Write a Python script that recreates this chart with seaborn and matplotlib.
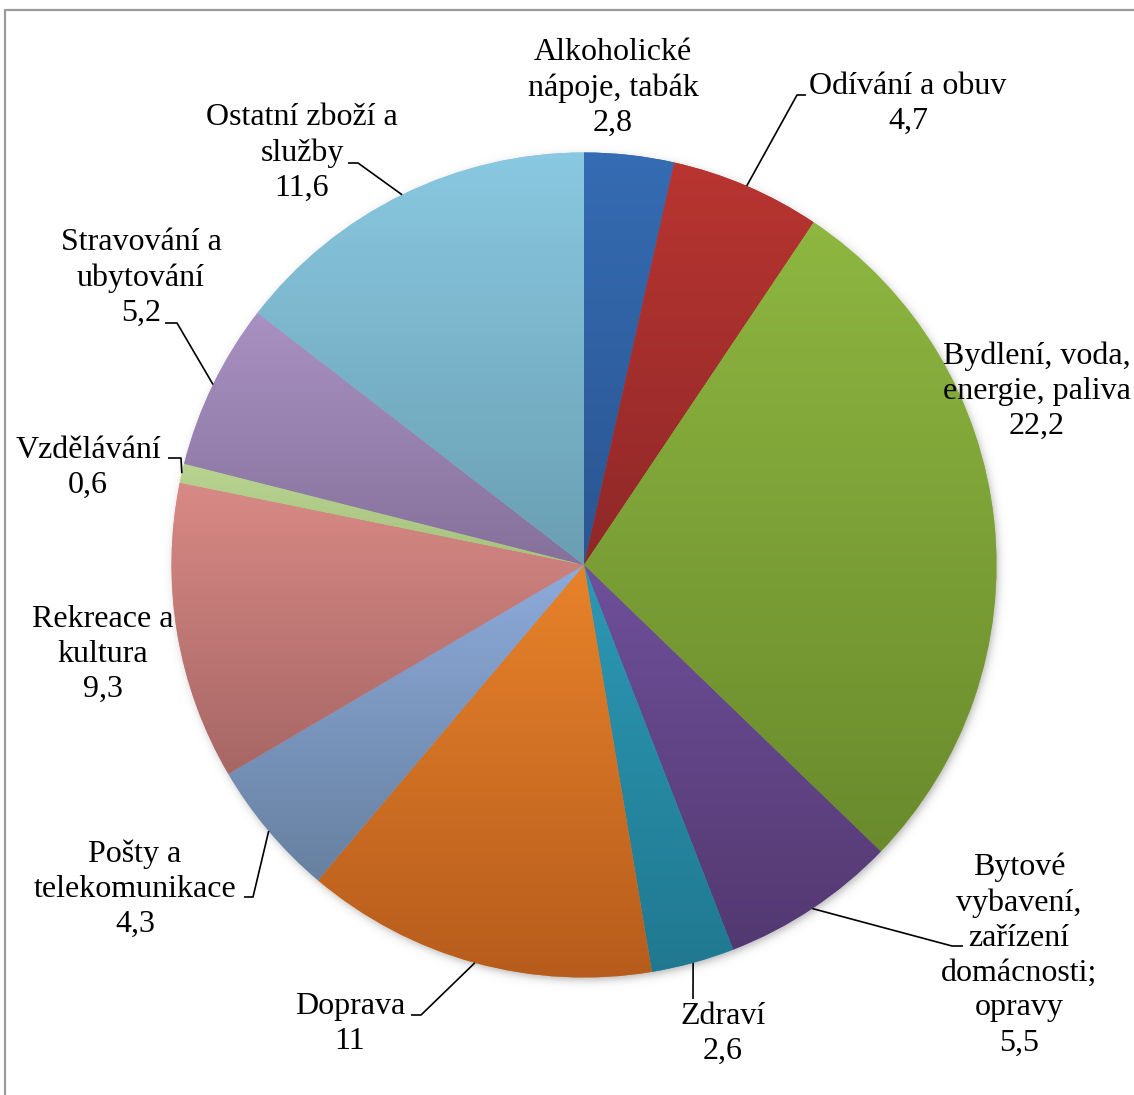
import numpy as np
import matplotlib
matplotlib.use("Agg")
import matplotlib.pyplot as plt
import matplotlib.colors as mcolors
import seaborn as sns

# Household consumption expenditure structure (shares, food excluded)
categories = [
    "Alkoholické\nnápoje, tabák",
    "Odívání a obuv",
    "Bydlení, voda,\nenergie, paliva",
    "Bytové\nvybavení,\nzařízení\ndomácnosti;\nopravy",
    "Zdraví",
    "Doprava",
    "Pošty a\ntelekomunikace",
    "Rekreace a\nkultura",
    "Vzdělávání",
    "Stravování a\nubytování",
    "Ostatní zboží a\nslužby",
]
values = [2.8, 4.7, 22.2, 5.5, 2.6, 11, 4.3, 9.3, 0.6, 5.2, 11.6]
value_labels = ["2,8", "4,7", "22,2", "5,5", "2,6", "11", "4,3", "9,3", "0,6", "5,2", "11,6"]

# Slice colours: light (top) and dark (bottom) ends of each vertical gradient
top_colors = ["#356cb3", "#b93531", "#8eb741", "#6f509b", "#2d99b5", "#e8832b",
              "#8eabdc", "#d98a86", "#b9d591", "#a992c3", "#89c9e1"]
bottom_colors = ["#2a5592", "#8e2828", "#6a8a2c", "#523870", "#207890", "#b65c1c",
                 "#66809f", "#a66664", "#a6c07e", "#85709a", "#6a9eb2"]

# ---- layout (figure pixels) ----
W, H = 1134, 1095
CX, CY, R = 584.0, 565.0, 412.5


def px(x, y):
    """Figure pixel position -> data coordinates (pie centre at 0,0)."""
    return (x - CX) / R, (CY - y) / R


label_pos = [(613, 88), (908, 104), (1037, 391), (1019, 955), (723, 1034),
             (350, 1024), (135, 889), (103, 654), (88, 468), (141, 278), (302, 153)]
# leader lines: elbow and end points (None = no leader)
leaders = [None,
           [(797, 95), (806, 95)],
           None,
           [(952, 946), (963, 946)],
           [(693, 999)],
           [(421, 1015), (411, 1015)],
           [(253, 897), (244, 897)],
           None,
           [(181, 458), (168, 458)],
           [(177, 323), (165, 323)],
           [(358, 163), (348, 163)]]

sns.set_theme(style="white")
plt.rcParams["font.family"] = ["Liberation Serif", "DejaVu Serif"]

fig = plt.figure(figsize=(W / 100, H / 100), dpi=100)
ax = fig.add_axes([0, 0, 1, 1])
ax.set_axis_off()

# soft drop shadow under the pie
gx = np.linspace(-1.45, 1.45, 700)
gy = np.linspace(-1.45, 1.45, 700)
XX, YY = np.meshgrid(gx, gy)
dist = np.hypot(XX - 2.0 / R, YY + 3.0 / R)
alpha = 0.45 / (1.0 + np.exp((dist - 1.0) / (2.5 / R)))
shadow = np.zeros((700, 700, 4))
shadow[..., :3] = 0.35
shadow[..., 3] = alpha
ax.imshow(shadow, extent=[-1.45, 1.45, -1.45, 1.45], origin="lower",
          interpolation="bilinear", zorder=0.5)

wedges, _ = ax.pie(values, colors=top_colors, startangle=90, counterclock=False,
                   radius=1.0, center=(0, 0), wedgeprops=dict(linewidth=0))

total = float(sum(values))
for w, c_top, c_bot in zip(wedges, top_colors, bottom_colors):
    w.set_zorder(1)
    t = np.radians(np.linspace(w.theta1, w.theta2, 200))
    ys = np.concatenate([np.sin(t), [0.0]])
    xs = np.concatenate([np.cos(t), [0.0]])
    y0, y1 = ys.min(), ys.max()
    x0, x1 = xs.min(), xs.max()
    a = np.array(mcolors.to_rgb(c_top))
    b = np.array(mcolors.to_rgb(c_bot))
    f = np.linspace(0, 1, 256)[:, None]
    grad = (a[None, :] * (1 - f) + b[None, :] * f)[:, None, :]
    im = ax.imshow(grad, extent=[x0 - 0.01, x1 + 0.01, y0 - 0.01, y1 + 0.01],
                   origin="upper", aspect="auto", interpolation="bilinear", zorder=1.5)
    im.set_clip_path(w)

# labels and leader lines
cum = 0.0
for i, (cat, val, vl) in enumerate(zip(categories, values, value_labels)):
    mid = 90.0 - (cum + val / 2.0) / total * 360.0
    cum += val
    lx, ly = px(*label_pos[i])
    ax.text(lx, ly, f"{cat}\n{vl}", ha="center", va="center", multialignment="center",
            fontsize=23, color="black", linespacing=1.27, zorder=3)
    if leaders[i] is not None:
        sx, sy = np.cos(np.radians(mid)), np.sin(np.radians(mid))
        pts = [(sx, sy)] + [px(*p) for p in leaders[i]]
        ax.plot([p[0] for p in pts], [p[1] for p in pts], color="black",
                lw=1.2, solid_capstyle="butt", zorder=2.5)

ax.set_xlim(-CX / R, (W - CX) / R)
ax.set_ylim(-(H - CY) / R, CY / R)
ax.set_aspect("equal")

# outer frame (partly visible along the left and top edges)
fx0, fy0 = px(5, 10)
ax.plot([fx0, fx0, px(W + 10, 0)[0]], [px(0, H + 10)[1], fy0, fy0],
        color="#9a9a9a", lw=1.6, zorder=4, clip_on=False)

fig.savefig("out.png", dpi=100, facecolor="white")
